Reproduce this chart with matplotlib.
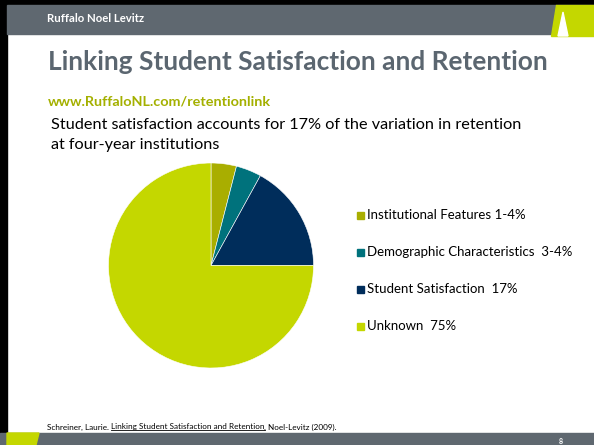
import matplotlib.pyplot as plt
from matplotlib.patches import Rectangle, Polygon

# Data
labels = ["Institutional Features 1-4%", "Demographic Characteristics  3-4%",
          "Student Satisfaction  17%", "Unknown  75%"]
shares = [4, 4, 17, 75]
colors = ["#a9ae00", "#00727c", "#002d5b", "#c4d700"]

title = "Linking Student Satisfaction and Retention"
header = "Ruffalo Noel Levitz"
url = "www.RuffaloNL.com/retentionlink"
subtitle = ["Student satisfaction accounts for 17% of the variation in retention",
            "at four-year institutions"]
cite_parts = ["Schreiner, Laurie. ", "Linking Student Satisfaction and Retention", ", Noel-Levitz (2009)."]
page = "8"

W, H = 594, 445
gray = "#5f6870"
lime = "#c4d700"

fig = plt.figure(figsize=(W / 100, H / 100), dpi=100)

# background layer in pixel coordinates
bg = fig.add_axes([0, 0, 1, 1])
bg.set_xlim(0, W)
bg.set_ylim(H, 0)
bg.axis("off")

# frame and bars
bg.add_patch(Rectangle((0, 0), W, 5, color="black"))
bg.add_patch(Rectangle((0, 0), 7, 433, color="black"))
bg.add_patch(Rectangle((7, 5), W - 7, 29, color=gray))
bg.add_patch(Polygon([(556, 5), (W, 5), (W, 36), (551, 36)], color=lime))
bg.add_patch(Polygon([(558, 36), (568, 36), (563, 12)], color="white"))
bg.add_patch(Rectangle((0, 433), W, 12, color=gray))
bg.add_patch(Polygon([(7, 433), (39, 433), (36, H), (7, H)], color=lime))

bg.text(47, 19, header, color="white", fontsize=8.2, fontweight="bold",
        family="Lato", va="center")
bg.text(48, 62, title, color="#5b6670", fontsize=18.9, fontweight="bold",
        family="Lato", va="center")
bg.text(48, 102, url, color="#a4b000", fontsize=10.4, fontweight="bold",
        family="Lato", va="center")
for i, line in enumerate(subtitle):
    bg.text(51, 125 + i * 20, line, color="black", fontsize=11.7,
            family="Lato", va="center")

# citation with underlined title part
fig.canvas.draw()
renderer = fig.canvas.get_renderer()
x = 47
inv = bg.transData.inverted()
for i, part in enumerate(cite_parts):
    t = bg.text(x, 427, part, color="black", fontsize=5.85, family="Lato", va="center")
    bb = t.get_window_extent(renderer)
    (x0, y0), (x1, y1) = inv.transform([[bb.x0, bb.y0], [bb.x1, bb.y1]])
    if i == 1:
        bg.plot([x0, x1], [y0 - 0.3, y0 - 0.3], color="black", lw=0.6)
    x = x1

bg.text(561, 441, page, color="white", fontsize=5, fontweight="bold",
        family="Lato", va="center", ha="center")

# pie
cx, cy, r = 211, 265.5, 102.5
ax = fig.add_axes([(cx - r) / W, 1 - (cy + r) / H, 2 * r / W, 2 * r / H])
ax.pie(shares, colors=colors, startangle=90, counterclock=False,
       wedgeprops=dict(edgecolor="white", linewidth=0.4))
ax.set_xlim(-1, 1)
ax.set_ylim(-1, 1)
ax.axis("off")

# legend
for i, lab in enumerate(labels):
    y = 215 + i * 37
    bg.add_patch(Rectangle((357, y - 3.5), 7, 7, color=colors[i]))
    bg.text(367, y, lab, color="black", fontsize=9.5, family="Lato", va="center")

fig.savefig("out.png", dpi=100)
